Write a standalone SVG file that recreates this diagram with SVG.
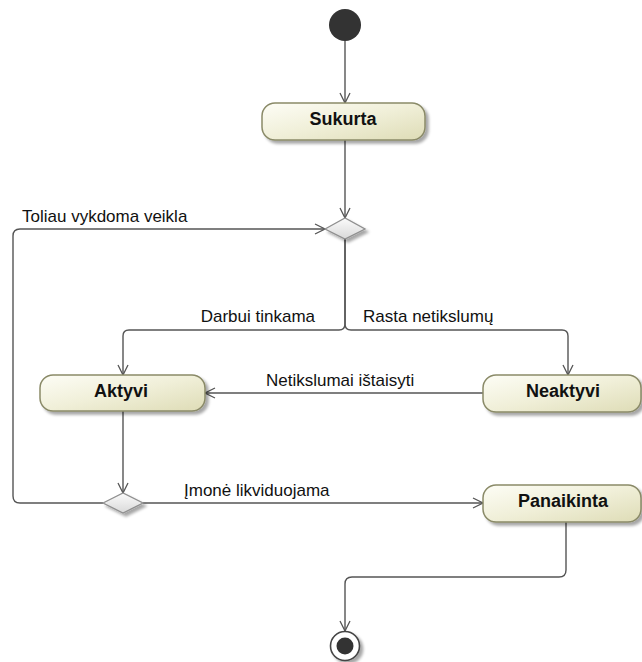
<svg xmlns="http://www.w3.org/2000/svg" width="642" height="662" viewBox="0 0 642 662">
  <defs>
    <linearGradient id="actionFill" x1="0" y1="0" x2="1" y2="1">
      <stop offset="0" stop-color="#fdfdf6"/>
      <stop offset="0.5" stop-color="#f0efd8"/>
      <stop offset="1" stop-color="#dedcb6"/>
    </linearGradient>
    <linearGradient id="decisionFill" x1="0" y1="0" x2="0" y2="1">
      <stop offset="0" stop-color="#fbfbfb"/>
      <stop offset="1" stop-color="#d9d9d9"/>
    </linearGradient>
    <filter id="shadow" x="-20%" y="-30%" width="150%" height="180%">
      <feGaussianBlur in="SourceAlpha" stdDeviation="1.6"/>
      <feOffset dx="3" dy="3" result="blur"/>
      <feComponentTransfer><feFuncA type="linear" slope="0.35"/></feComponentTransfer>
      <feMerge><feMergeNode/><feMergeNode in="SourceGraphic"/></feMerge>
    </filter>
    <marker id="open" viewBox="0 0 12 12" refX="11" refY="6" markerWidth="12" markerHeight="12" markerUnits="userSpaceOnUse" orient="auto">
      <path d="M1,1 L11,6 L1,11" fill="none" stroke="#555" stroke-width="1.3"/>
    </marker>
  </defs>
  <style>
    .action { fill: url(#actionFill); stroke: #8a8a68; stroke-width: 1.5; filter: url(#shadow); }
    .decision { fill: url(#decisionFill); stroke: #8f8f8f; stroke-width: 1.3; filter: url(#shadow); }
    .name { font-family: "Liberation Sans", Arial, sans-serif; font-weight: bold; font-size: 18px; fill: #111; text-anchor: middle; }
    .guard { font-family: "Liberation Sans", Arial, sans-serif; font-size: 17px; fill: #111; }
    .flow { fill: none; stroke: #555; stroke-width: 1.4; }
    .arrow { marker-end: url(#open); }
  </style>

  <!-- control flows -->
  <g id="connectors">
    <path class="flow arrow" d="M345,41 V103"/>
    <path class="flow arrow" d="M345,140 V218"/>
    <path class="flow arrow" d="M345,239 V324 Q345,330 339,330 H129 Q123,330 123,336 V375"/>
    <path class="flow arrow" d="M345,239 V324 Q345,330 351,330 H562 Q568,330 568,336 V375"/>
    <path class="flow arrow" d="M483,393 H205"/>
    <path class="flow arrow" d="M123,411 V493"/>
    <path class="flow arrow" d="M103,503 H20 Q13,503 13,496 V236 Q13,229 20,229 H325"/>
    <path class="flow arrow" d="M143,503 H483"/>
    <path class="flow arrow" d="M566,522 V570 Q566,577 559,577 H352 Q345,577 345,584 V631"/>
    <text class="guard" x="22" y="222">Toliau vykdoma veikla</text>
    <text class="guard" x="315" y="322" text-anchor="end">Darbui tinkama</text>
    <text class="guard" x="363" y="322">Rasta netikslumų</text>
    <text class="guard" x="266" y="386">Netikslumai ištaisyti</text>
    <text class="guard" x="184" y="496">Įmonė likviduojama</text>
  </g>

  <g id="initial">
    <circle cx="345" cy="25" r="16" fill="#333"/>
  </g>

  <g id="sukurta">
    <rect class="action" x="262" y="103" width="163" height="37" rx="13"/>
    <text class="name" x="343" y="125">Sukurta</text>
  </g>

  <g id="decision-top">
    <polygon class="decision" points="325,229 345,218 365,229 345,239"/>
  </g>

  <g id="aktyvi">
    <rect class="action" x="40" y="375" width="165" height="36" rx="13"/>
    <text class="name" x="121" y="397">Aktyvi</text>
  </g>

  <g id="neaktyvi">
    <rect class="action" x="483" y="375" width="158" height="37" rx="13"/>
    <text class="name" x="563" y="397">Neaktyvi</text>
  </g>

  <g id="decision-bottom">
    <polygon class="decision" points="103,503 123,493 143,503 123,513"/>
  </g>

  <g id="panaikinta">
    <rect class="action" x="483" y="485" width="158" height="37" rx="13"/>
    <text class="name" x="563" y="507">Panaikinta</text>
  </g>

  <g id="final">
    <circle cx="345" cy="646" r="14.5" fill="#fff" stroke="#444" stroke-width="1.6" filter="url(#shadow)"/>
    <circle cx="345" cy="646" r="8.5" fill="#333"/>
  </g>
</svg>
